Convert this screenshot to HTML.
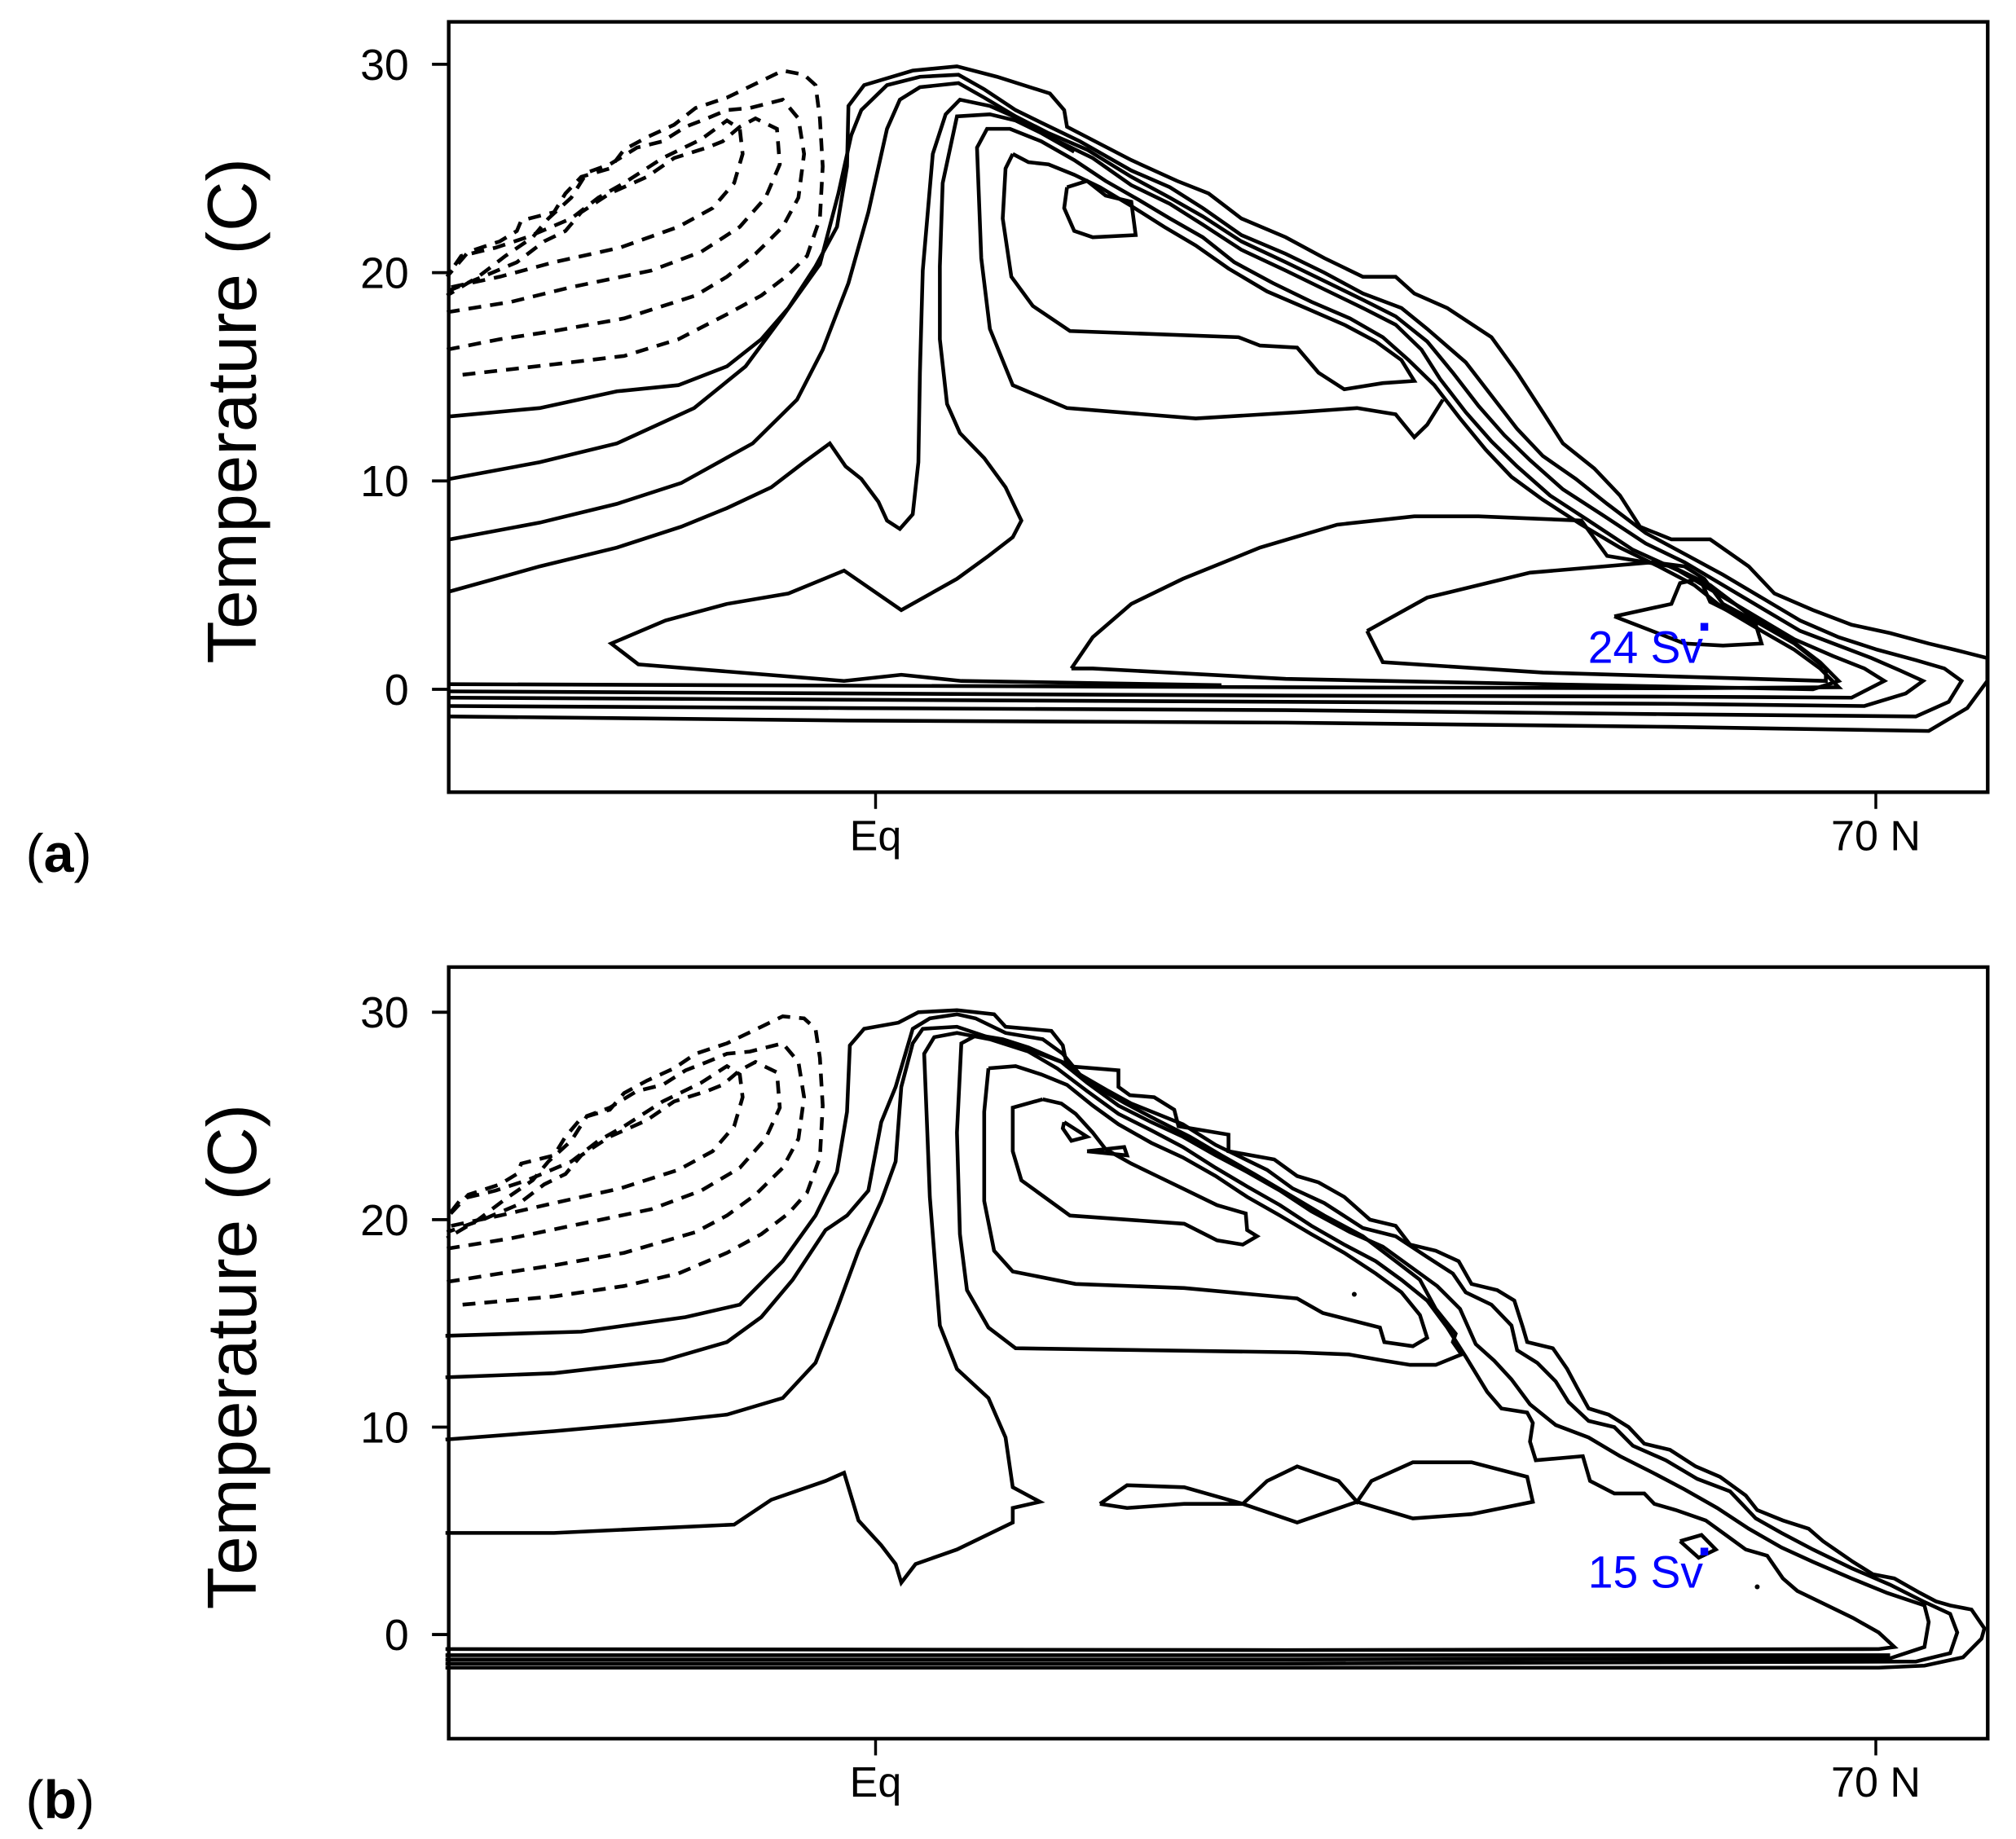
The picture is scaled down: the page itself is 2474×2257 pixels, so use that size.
<!DOCTYPE html>
<html><head><meta charset="utf-8"><style>
html,body{margin:0;padding:0;background:#fff;}
svg{display:block;}
text{font-family:"Liberation Sans",sans-serif;}
</style></head><body>
<svg id="chart" xmlns="http://www.w3.org/2000/svg" width="2474" height="2257" viewBox="0 0 1568 1430" preserveAspectRatio="none">
<g id="panelA"></g>
<g id="panelB"></g>
</svg>
<script>
// ---- axis data ----
const yTicks = [0, 10, 20, 30];
const xTicks = [0, 70];
const xTickLabels = ["Eq", "70 N"];

// ---- Panel (a) contours: [latitude, temperature] ----
const aSolid1 = [[-29.8,13.1],[-23.5,13.5],[-18.1,14.3],[-13.8,14.6],[-10.4,15.5],[-8.0,16.8],[-6.1,18.3],[-4.2,20.3],[-2.7,22.2],[-2.0,25.1],[-1.9,28.0],[-0.8,29.0],[2.6,29.7],[5.7,29.9],[8.5,29.4],[12.2,28.6],[13.2,27.8],[13.4,27.0],[17.9,25.4],[21.1,24.4],[23.3,23.8],[25.6,22.6],[28.7,21.7],[31.4,20.7],[34.1,19.8],[36.4,19.8],[37.7,19.0],[40.0,18.3],[43.1,16.9],[44.9,15.2],[46.7,13.3],[48.1,11.8],[50.3,10.6],[52.1,9.3],[53.5,7.8],[55.7,7.2],[58.4,7.2],[61.1,5.9],[62.9,4.6],[65.6,3.8],[68.3,3.1],[71.0,2.7],[73.7,2.2],[75.5,1.9],[77.8,1.5],[77.8,0.4],[76.4,-0.9],[73.7,-2.0],[55.7,-1.8],[28.7,-1.6],[-1.9,-1.5],[-29.8,-1.3]];
const aSolid2 = [[-29.8,10.1],[-23.5,10.9],[-18.1,11.8],[-12.7,13.5],[-9.1,15.5],[-6.4,18.0],[-3.9,20.4],[-2.6,23.8],[-1.7,26.6],[-1.0,27.8],[0.8,29.0],[3.1,29.4],[5.8,29.5],[7.6,28.8],[9.8,27.8],[11.6,27.2],[14.3,26.3],[17.9,24.9],[20.6,24.1],[22.9,23.1],[25.6,21.8],[28.7,20.9],[31.4,20.0],[34.1,19.0],[36.8,18.3],[38.6,17.3],[41.3,15.7],[43.1,14.1],[44.9,12.5],[46.7,11.2],[49.0,10.1],[51.2,8.9],[53.9,7.5],[56.6,6.5],[59.3,5.5],[62.0,4.4],[64.7,3.3],[67.4,2.5],[70.1,1.9],[72.8,1.4],[74.8,1.0],[76.0,0.4],[75.1,-0.6],[72.8,-1.3],[55.7,-1.2],[28.7,-1.0],[-1.9,-0.9],[-29.8,-0.8]];
const aSolid3 = [[-29.8,7.2],[-23.5,8.0],[-18.1,8.9],[-13.6,9.9],[-8.6,11.8],[-5.5,13.9],[-3.7,16.3],[-1.9,19.5],[-0.5,22.9],[0.8,26.9],[1.7,28.3],[3.1,28.9],[5.8,29.1],[7.6,28.4],[9.8,27.5],[12.1,26.7],[14.8,25.9],[17.9,24.6],[20.6,23.6],[22.9,22.7],[25.6,21.5],[28.7,20.5],[31.4,19.6],[34.1,18.7],[36.4,17.9],[38.6,16.7],[40.4,15.2],[42.2,13.6],[44.0,12.2],[45.8,11.0],[48.1,9.6],[50.8,8.4],[53.9,7.0],[56.6,6.1],[59.3,5.0],[62.0,3.9],[64.7,2.8],[67.4,2.1],[69.7,1.5],[71.7,0.9],[73.3,0.4],[72.1,-0.2],[69.2,-0.8],[55.7,-0.7],[28.7,-0.6],[-1.9,-0.5],[-29.8,-0.4]];
const aSolid4 = [[-29.8,4.7],[-23.5,5.9],[-18.1,6.8],[-13.6,7.8],[-10.4,8.7],[-7.3,9.7],[-5.0,10.9],[-3.2,11.8],[-2.1,10.7],[-1.0,10.1],[0.2,9.0],[0.8,8.1],[1.7,7.7],[2.6,8.4],[3.0,10.9],[3.1,15.2],[3.3,20.1],[4.0,25.7],[4.9,27.6],[5.9,28.3],[8.0,28.0],[10.3,27.3],[12.5,26.4],[15.2,25.5],[17.9,24.2],[20.6,23.3],[22.9,22.3],[25.6,21.1],[28.7,20.1],[31.4,19.2],[34.1,18.3],[36.4,17.5],[38.2,16.3],[39.5,14.9],[41.3,13.3],[43.1,11.9],[44.9,10.7],[47.2,9.3],[49.9,8.1],[53.0,6.7],[56.2,5.7],[58.9,4.6],[61.6,3.5],[64.3,2.4],[67.0,1.6],[69.2,1.0],[70.6,0.4],[68.3,-0.4],[55.7,-0.35],[28.7,-0.3],[-1.9,-0.2],[-29.8,-0.1]];
const aSolid5 = [[-29.8,0.25],[28.7,0.1],[55.7,0.05],[67.4,0.1],[66.1,1.0],[64.3,1.9],[62.0,2.8],[59.3,3.9],[57.3,5.0],[54.8,5.9],[52.1,6.8],[49.4,7.9],[46.7,9.1],[44.5,10.2],[42.7,11.5],[40.9,13.0],[39.1,14.6],[37.3,15.8],[35.5,16.9],[33.2,17.8],[30.5,18.6],[27.8,19.5],[25.1,20.5],[22.9,21.7],[20.6,22.6],[18.4,23.5],[16.1,24.4],[13.9,25.4],[11.6,26.3],[9.4,26.9],[7.8,26.9],[7.1,26.0],[7.4,20.7],[8.0,17.3],[9.6,14.6],[13.4,13.5],[22.4,13.0],[29.6,13.3],[33.7,13.5],[36.4,13.2],[37.7,12.1],[38.6,12.7],[39.7,13.9]];
const aSolid6 = [[13.9,25.8],[11.6,26.7],[9.8,27.3],[8.0,27.6],[5.7,27.5],[4.7,24.3],[4.5,20.3],[4.5,16.8],[5.0,13.7],[5.9,12.3],[7.6,11.1],[9.1,9.7],[10.2,8.1],[9.6,7.3],[7.9,6.4],[5.7,5.3],[1.8,3.8],[-2.2,5.7],[-6.1,4.6],[-10.4,4.1],[-14.7,3.3],[-18.5,2.2],[-16.6,1.2],[-2.2,0.4],[1.8,0.7],[6.0,0.4],[24.2,0.2]];
const aSolid7 = [[9.6,25.7],[9.1,25.0],[8.9,22.6],[9.5,19.8],[11.0,18.4],[13.6,17.2],[25.4,16.9],[26.9,16.5],[29.5,16.4],[31.0,15.2],[32.8,14.4],[35.5,14.7],[37.7,14.8],[36.8,15.8],[35.0,16.7],[32.8,17.5],[30.1,18.3],[27.4,19.1],[24.7,20.2],[22.4,21.3],[20.2,22.2],[17.9,23.2],[15.7,24.1],[13.9,24.7],[12.1,25.2],[10.7,25.3],[9.6,25.7]];
const aHeart = [[13.4,24.1],[14.8,24.4],[16.1,23.7],[17.9,23.4],[18.2,21.8],[15.2,21.7],[13.9,22.0],[13.2,23.1],[13.4,24.1]];
const aLoopOuter = [[13.7,1.0],[15.2,2.5],[17.9,4.1],[21.5,5.3],[26.9,6.8],[32.3,7.9],[37.7,8.3],[42.2,8.3],[49.4,8.1],[51.2,6.4],[55.7,5.9],[58.4,5.0],[61.1,3.6],[63.8,2.5],[66.1,1.3],[67.4,0.4],[65.6,0.0],[46.7,0.25],[28.7,0.5],[15.2,1.0],[13.7,1.0]];
const aLoopInner = [[34.4,2.8],[35.5,1.3],[46.7,0.8],[66.5,0.4],[66.5,1.0],[64.3,2.2],[62.0,3.1],[59.3,4.1],[58.0,5.3],[56.6,5.9],[54.4,6.1],[45.8,5.6],[38.6,4.4],[34.4,2.8]];
const aLoopSmall = [[51.7,3.5],[55.7,4.1],[56.3,5.1],[57.7,5.3],[58.4,4.2],[61.6,3.1],[62.0,2.2],[59.3,2.1],[56.6,2.2],[51.7,3.5]];
const aDash1 = [[-28.9,15.1],[-22.5,15.6],[-17.6,16.0],[-13.8,16.8],[-10.4,18.0],[-8.0,18.9],[-6.1,19.9],[-4.8,20.8],[-3.9,22.6],[-3.7,25.1],[-3.9,27.4],[-4.2,29.0],[-5.0,29.5],[-6.5,29.7],[-8.0,29.2],[-10.4,28.4],[-12.6,27.9],[-14.1,27.1],[-16.0,26.5],[-17.6,25.9],[-18.6,25.0],[-20.6,24.6],[-21.7,23.8],[-22.5,22.9],[-24.8,22.5],[-25.1,22.0],[-26.3,21.5],[-28.5,21.0],[-30,19.8]];
const aDash2 = [[-30,16.3],[-26.3,16.8],[-22.5,17.2],[-17.6,17.8],[-12.6,18.9],[-10.4,19.8],[-8.4,20.9],[-6.5,22.2],[-5.4,23.6],[-5.0,25.7],[-5.4,27.4],[-6.5,28.3],[-8.8,27.9],[-10.4,27.8],[-11.8,27.4],[-13.3,27.0],[-14.9,26.3],[-16.7,26.0],[-18.6,25.2],[-20.2,24.8],[-21.3,23.6],[-22.9,22.6],[-24.0,21.7],[-25.9,20.8],[-27.8,19.8],[-30,18.9]];
const aDash3 = [[-30,18.1],[-25.5,18.6],[-21.3,19.3],[-15.7,20.1],[-12.2,21.0],[-9.5,22.2],[-7.7,23.6],[-6.7,25.2],[-6.9,26.9],[-8.4,27.4],[-9.5,27.0],[-10.7,26.3],[-11.8,26.0],[-14.1,25.5],[-16.0,24.6],[-18.6,23.8],[-20.6,22.9],[-21.7,22.0],[-23.2,21.5],[-25.1,20.5],[-27.5,19.8],[-30,19.1]];
const aDash4 = [[-29.7,19.3],[-26.3,19.8],[-22.5,20.5],[-17.9,21.2],[-13.8,22.2],[-11.4,23.1],[-9.9,24.3],[-9.3,25.7],[-9.5,26.9],[-10.4,27.3],[-12.2,26.4],[-14.9,25.5],[-17.6,24.3],[-19.4,23.6],[-21.3,22.6],[-24.4,21.7],[-26.6,21.2],[-29.0,20.8],[-29.8,20.0]];
const aMaxPoint = [58.0, 3.0];
const aMaxLabel = "24 Sv";

// ---- Panel (b) contours ----
const bSolid1 = [[-30.1,14.4],[-20.6,14.6],[-13.3,15.3],[-9.5,15.9],[-6.5,18.0],[-4.2,20.2],[-2.7,22.3],[-2.0,25.2],[-1.8,28.4],[-0.8,29.2],[1.6,29.5],[3.0,30.0],[5.7,30.1],[8.3,29.9],[9.1,29.3],[12.3,29.1],[13.1,28.4],[13.4,27.4],[17.0,27.2],[17.0,26.4],[17.8,26.0],[19.5,25.9],[20.9,25.3],[21.2,24.5],[24.7,24.1],[24.7,23.3],[27.9,22.9],[29.5,22.1],[31.0,21.8],[32.8,21.1],[34.6,20.0],[36.4,19.7],[37.4,18.8],[39.2,18.5],[40.8,18.0],[41.7,16.9],[43.5,16.6],[44.7,16.1],[45.3,14.8],[45.6,14.1],[47.4,13.8],[48.4,12.8],[49.1,11.9],[49.9,10.9],[51.3,10.6],[52.7,10.0],[53.8,9.2],[55.6,8.9],[57.4,8.1],[59.1,7.6],[60.9,6.7],[61.7,6.0],[63.5,5.5],[65.3,5.1],[66.3,4.5],[68.4,3.5],[69.8,2.9],[71.3,2.7],[73.1,2.0],[74.2,1.6],[75.2,1.4],[76.7,1.2],[77.6,0.3],[77.4,-0.2],[76.1,-1.1],[73.4,-1.5],[70.2,-1.6],[28.7,-1.6],[-1.9,-1.6],[-30.1,-1.6]];
const bSolid2 = [[-30.1,12.4],[-22.5,12.6],[-14.9,13.2],[-10.4,14.1],[-8.0,15.3],[-5.8,17.1],[-3.5,19.5],[-2.0,20.2],[-0.5,21.4],[0.4,24.7],[1.4,26.4],[2.6,29.2],[3.8,29.7],[5.7,29.9],[7.0,29.7],[9.1,29.0],[11.7,28.7],[13.1,28.0],[14.3,27.0],[16.3,26.2],[17.9,25.6],[19.7,25.1],[21.5,24.6],[23.8,23.6],[25.6,23.0],[27.4,22.4],[29.2,21.5],[31.4,20.8],[34.1,19.6],[36.4,19.2],[38.6,18.2],[40.4,17.4],[41.3,16.5],[43.1,15.9],[44.5,14.9],[44.9,13.7],[46.3,13.1],[47.6,12.2],[48.5,11.2],[49.9,10.3],[51.7,10.0],[53.0,9.1],[55.3,8.4],[57.5,7.5],[59.8,6.9],[61.6,5.6],[63.4,4.9],[65.6,4.1],[68.3,3.2],[71.0,2.4],[73.3,1.6],[75.2,1.0],[75.7,0.1],[75.2,-0.9],[72.8,-1.3],[28.7,-1.4],[-30.1,-1.4]];
const bSolid3 = [[-30.1,9.4],[-22.5,9.8],[-14.5,10.3],[-10.4,10.6],[-6.5,11.4],[-4.2,13.1],[-2.7,15.7],[-1.2,18.5],[0.4,20.9],[1.4,22.8],[1.8,26.4],[2.6,28.5],[3.3,29.2],[5.7,29.3],[8.3,28.7],[10.7,28.2],[13.0,27.6],[14.8,26.6],[17.0,25.5],[19.3,24.7],[21.5,24.0],[23.8,23.1],[26.0,22.3],[28.3,21.4],[30.5,20.4],[33.2,19.4],[35.5,18.7],[37.5,17.7],[39.3,16.8],[40.9,15.7],[42.0,14.0],[43.3,13.2],[44.5,12.3],[45.8,11.1],[47.6,10.1],[49.9,9.5],[52.1,8.6],[54.4,7.8],[56.6,7.0],[58.9,6.1],[61.1,5.1],[63.4,4.2],[65.6,3.5],[68.3,2.7],[70.8,2.0],[73.4,1.4],[73.7,0.6],[73.4,-0.6],[71.0,-1.15],[28.7,-1.2],[-30.1,-1.2]];
const bSolid4 = [[-30.1,4.9],[-22.5,4.9],[-9.9,5.3],[-7.3,6.5],[-3.5,7.4],[-2.2,7.8],[-1.2,5.5],[0.4,4.3],[1.4,3.4],[1.8,2.5],[2.8,3.4],[5.7,4.1],[9.6,5.4],[9.6,6.1],[11.5,6.4],[9.6,7.1],[9.1,9.5],[7.9,11.4],[5.7,12.8],[4.5,14.9],[3.8,21.1],[3.6,24.6],[3.4,28.0],[4.1,28.8],[5.7,29.0],[8.0,28.7],[10.7,28.1],[12.7,27.3],[14.8,26.2],[17.0,25.1],[19.3,24.3],[21.5,23.5],[23.8,22.5],[26.0,21.6],[28.3,20.7],[30.5,19.7],[32.8,18.8],[35.0,18.0],[36.8,17.1],[38.6,16.1],[40.0,14.8],[41.3,13.4],[42.8,11.7],[43.8,10.9],[45.6,10.7],[46.0,10.2],[45.8,9.3],[46.2,8.4],[49.5,8.6],[50.0,7.4],[51.7,6.8],[53.8,6.8],[54.5,6.3],[56.0,6.0],[58.1,5.5],[59.5,4.8],[60.9,4.1],[62.4,3.8],[63.5,2.7],[64.5,2.1],[66.3,1.5],[68.4,0.8],[70.2,0.1],[71.3,-0.6],[70.2,-0.7],[28.7,-0.75],[-30.1,-0.7]];
const bSolid5 = [[-30.1,-1.0],[71.0,-1.0]];
const bSolid6 = [[7.1,28.9],[6.0,28.5],[5.7,24.2],[5.9,19.3],[6.4,16.6],[7.9,14.8],[9.8,13.8],[29.5,13.6],[33.1,13.5],[35.6,13.2],[37.4,13.0],[39.2,13.0],[41.0,13.5],[40.4,14.1],[40.6,14.5],[39.2,15.7],[38.1,17.1],[36.4,18.0],[34.1,19.2],[31.4,20.2],[28.7,21.3],[26.5,22.2],[24.2,23.1],[22.0,24.0],[19.7,24.8],[17.5,25.6],[15.2,26.5],[13.4,27.5],[10.7,28.3],[8.9,28.7],[7.1,28.9]];
const bSolid7 = [[7.9,27.3],[7.6,25.2],[7.6,20.9],[8.3,18.5],[9.6,17.5],[14.0,16.9],[21.6,16.7],[29.5,16.2],[31.3,15.5],[35.3,14.8],[35.6,14.1],[37.6,13.9],[38.6,14.3],[38.1,15.4],[36.8,16.5],[35.0,17.4],[32.8,18.4],[30.5,19.3],[28.3,20.2],[26.0,21.1],[23.8,22.1],[21.5,23.0],[19.3,23.7],[17.0,24.6],[15.2,25.5],[13.4,26.5],[11.6,27.0],[9.8,27.4],[7.9,27.3]];
const bSolid8 = [[11.7,25.8],[9.6,25.4],[9.6,23.3],[10.2,21.9],[13.6,20.2],[21.6,19.8],[23.9,19.0],[25.7,18.8],[26.7,19.2],[26.0,19.5],[25.9,20.3],[23.9,20.7],[21.5,21.5],[19.7,22.1],[17.9,22.7],[16.1,23.4],[15.2,24.2],[14.0,25.1],[13.0,25.6],[11.7,25.8]];
const bTri1 = [[13.2,24.7],[14.8,24.0],[13.7,23.8],[13.1,24.4],[13.2,24.7]];
const bTri2 = [[14.8,23.3],[17.4,23.5],[17.6,23.1],[14.8,23.3]];
const bLens = [[15.7,6.3],[17.6,7.2],[21.6,7.1],[25.7,6.3],[27.4,7.4],[29.5,8.1],[32.4,7.4],[33.7,6.4],[34.7,7.4],[37.6,8.3],[41.7,8.3],[45.6,7.6],[46.0,6.4],[41.7,5.8],[37.6,5.6],[33.7,6.4],[29.5,5.4],[25.7,6.3],[21.6,6.3],[17.6,6.1],[15.7,6.3]];
const bSmallLoop = [[56.3,4.5],[57.8,4.8],[58.8,4.1],[57.6,3.7],[56.3,4.5]];
const bDots = [[33.5,16.4],[61.7,2.3]];
const bDash1 = [[-28.9,15.9],[-22.5,16.3],[-17.6,16.8],[-13.8,17.4],[-10.4,18.4],[-8.0,19.3],[-6.1,20.3],[-4.8,21.3],[-3.9,23.0],[-3.7,25.5],[-3.9,27.8],[-4.2,29.2],[-5.0,29.7],[-6.5,29.8],[-8.0,29.3],[-10.4,28.5],[-12.6,28.0],[-14.1,27.3],[-16.0,26.7],[-17.6,26.1],[-18.6,25.3],[-20.6,24.9],[-21.7,24.0],[-22.5,23.1],[-24.8,22.7],[-25.1,22.2],[-26.3,21.7],[-28.5,21.2],[-30,20.1]];
const bDash2 = [[-30,17.0],[-26.3,17.4],[-22.5,17.8],[-17.6,18.4],[-12.6,19.4],[-10.4,20.2],[-8.4,21.2],[-6.5,22.5],[-5.4,23.9],[-5.0,25.9],[-5.4,27.6],[-6.5,28.5],[-8.8,28.1],[-10.4,28.0],[-11.8,27.6],[-13.3,27.2],[-14.9,26.5],[-16.7,26.2],[-18.6,25.4],[-20.2,25.0],[-21.3,23.8],[-22.9,22.8],[-24.0,21.9],[-25.9,21.0],[-27.8,20.0],[-30,19.1]];
const bDash3 = [[-30,18.6],[-25.5,19.1],[-21.3,19.7],[-15.7,20.5],[-12.2,21.4],[-9.5,22.5],[-7.7,23.9],[-6.7,25.4],[-6.9,27.1],[-8.4,27.6],[-9.5,27.2],[-10.7,26.5],[-11.8,26.2],[-14.1,25.7],[-16.0,24.8],[-18.6,24.0],[-20.6,23.1],[-21.7,22.2],[-23.2,21.7],[-25.1,20.7],[-27.5,20.0],[-30,19.4]];
const bDash4 = [[-29.7,19.7],[-26.3,20.2],[-22.5,20.8],[-17.9,21.5],[-13.8,22.4],[-11.4,23.3],[-9.9,24.5],[-9.3,25.9],[-9.5,27.0],[-10.4,27.4],[-12.2,26.6],[-14.9,25.7],[-17.6,24.5],[-19.4,23.8],[-21.3,22.8],[-24.4,21.9],[-26.6,21.4],[-29.0,21.0],[-29.8,20.3]];
const bMaxPoint = [58.0, 4.0];
const bMaxLabel = "15 Sv";

// ---- rendering ----
const NS = "http://www.w3.org/2000/svg";
function mk(tag, attrs, parent){const e=document.createElementNS(NS,tag);for(const k in attrs)e.setAttribute(k,attrs[k]);parent.appendChild(e);return e;}
const xLeft=349, xRight=1546;
function xScale(lat){return 681 + lat*11.114;}
const panels = [
 {g:"panelA", top:17, bottom:616, y0:536, k:16.2, letter:"a",
  solid:[aSolid1,aSolid2,aSolid3,aSolid4,aSolid5,aSolid6,aSolid7,aHeart,aLoopOuter,aLoopInner,aLoopSmall],
  dashed:[aDash1,aDash2,aDash3,aDash4], dots:[], maxP:aMaxPoint, maxL:aMaxLabel},
 {g:"panelB", top:752, bottom:1352, y0:1271, k:16.13, letter:"b",
  solid:[bSolid1,bSolid2,bSolid3,bSolid4,bSolid5,bSolid6,bSolid7,bSolid8,bTri1,bTri2,bLens,bSmallLoop],
  dashed:[bDash1,bDash2,bDash3,bDash4], dots:bDots, maxP:bMaxPoint, maxL:bMaxLabel}
];
panels.forEach((p,pi)=>{
  const g=document.getElementById(p.g);
  const yScale=T=>p.y0 - T*p.k;
  const pts=arr=>arr.map(d=>xScale(d[0]).toFixed(1)+","+yScale(d[1]).toFixed(1)).join(" ");
  p.solid.forEach((c,i)=>{
    const e=mk("polyline",{points:pts(c),fill:"none",stroke:"#000","stroke-width":2.9},g);
    
    
  });
  p.dashed.forEach((c,i)=>{
    const e=mk("polyline",{points:pts(c),fill:"none",stroke:"#000","stroke-width":2.9,"stroke-dasharray":"10 7"},g);
    
    
  });
  p.dots.forEach(d=>{
    const e=mk("circle",{cx:xScale(d[0]),cy:yScale(d[1]),r:1.9,fill:"#000"},g);
    
    
  });
  const fr=mk("rect",{x:xLeft,y:p.top,width:xRight-xLeft,height:p.bottom-p.top,fill:"none",stroke:"#000","stroke-width":2.8},g);
  
  
  yTicks.forEach(t=>{
    const y=yScale(t);
    const tk=mk("line",{x1:xLeft-13,x2:xLeft,y1:y,y2:y,stroke:"#000","stroke-width":2.4},g);
    
    
    const tl=mk("text",{x:318,y:y+12,"text-anchor":"end","font-size":34,fill:"#000"},g);
    tl.textContent=t;
    
    
  });
  xTicks.forEach((t,i)=>{
    const x=xScale(t);
    const tk=mk("line",{x1:x,x2:x,y1:p.bottom,y2:p.bottom+13,stroke:"#000","stroke-width":2.2},g);
    
    
    const tl=mk("text",{x:x,y:p.bottom+45,"text-anchor":"middle","font-size":33,fill:"#000"},g);
    tl.textContent=xTickLabels[i];
    
    
  });
  const cy=(p.top+p.bottom)/2+3;
  const yt=mk("text",{x:0,y:0,transform:"translate(199,"+cy+") rotate(-90)","text-anchor":"middle","font-size":54,fill:"#000"},g);
  yt.textContent="Temperature (C)";
  
  
  const lt=mk("text",{x:20,y:p.bottom+62,"font-size":42,fill:"#000","font-family":"Liberation Serif, serif"},g);
  
  
  const t1=mk("tspan",{},lt); t1.textContent="(";
  const t2=mk("tspan",{"font-weight":"bold"},lt); t2.textContent=p.letter;
  const t3=mk("tspan",{},lt); t3.textContent=")";
  const mx=xScale(p.maxP[0]), my=yScale(p.maxP[1]);
  const sq=mk("rect",{x:mx-3,y:my-3,width:6,height:6,fill:"#0000ff"},g);
  
  
  const ml=mk("text",{x:mx-1,y:my+28,"text-anchor":"end","font-size":35,fill:"#0000ff"},g);
  ml.textContent=p.maxL;
  
  
});
</script>
</body></html>
